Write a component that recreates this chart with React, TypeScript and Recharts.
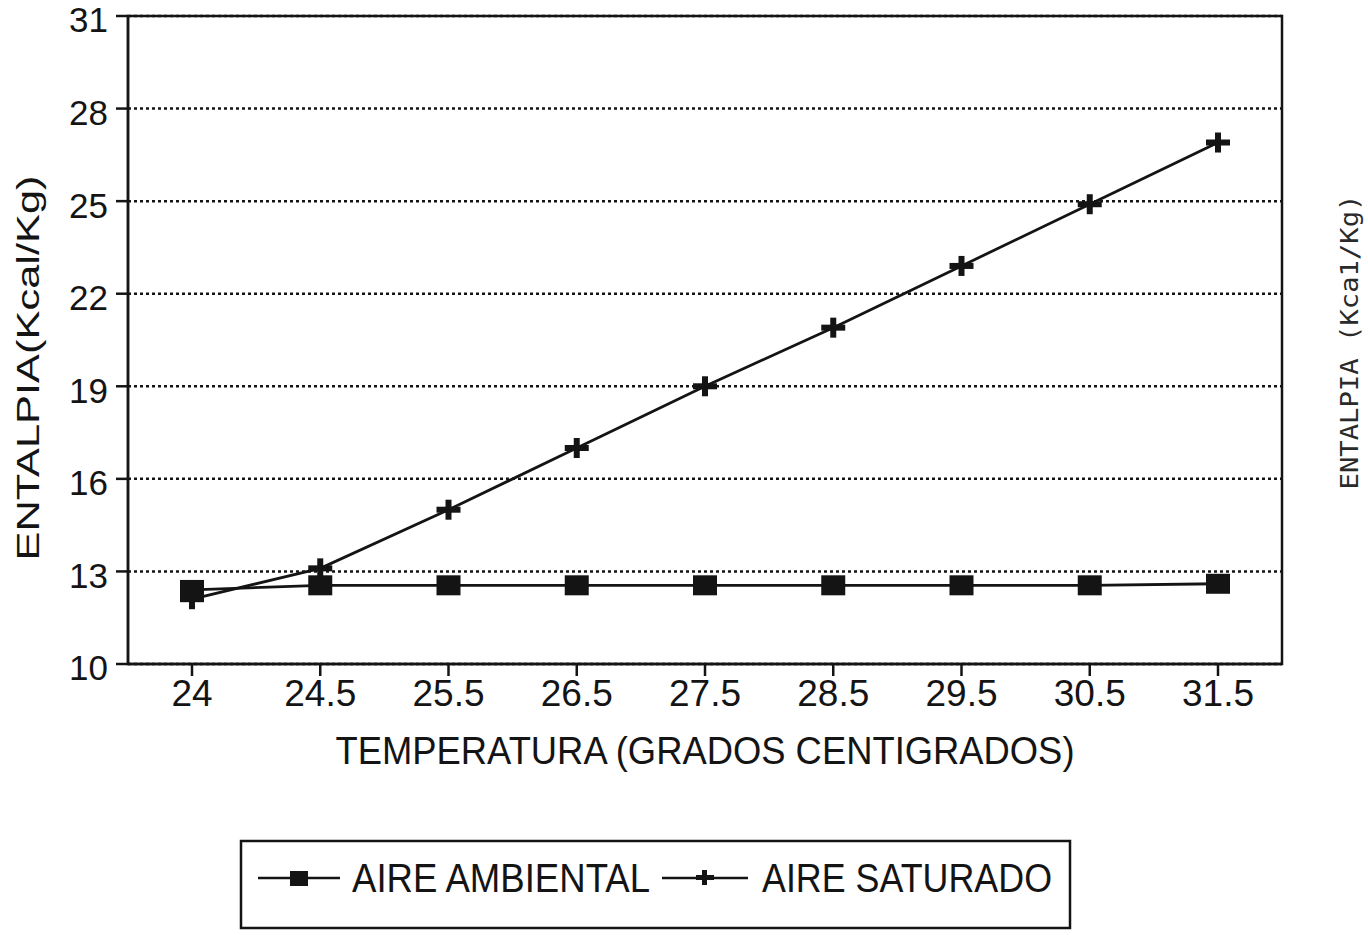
import React from 'react';
import * as Recharts from 'recharts';
import { LineChart, Line, XAxis, YAxis, CartesianGrid, Label } from 'recharts';

const temperaturas = ['24', '24.5', '25.5', '26.5', '27.5', '28.5', '29.5', '30.5', '31.5'];
const aireAmbiental = [12.4, 12.55, 12.55, 12.55, 12.55, 12.55, 12.55, 12.55, 12.6];
const aireSaturado = [12.1, 13.1, 15.0, 17.0, 19.0, 20.9, 22.9, 24.9, 26.9];
const yTicks = [10, 13, 16, 19, 22, 25, 28, 31];

const data = temperaturas.map((t, i) => ({
  t,
  ambiental: aireAmbiental[i],
  saturado: aireSaturado[i],
}));

const INK = '#141414';
const FONT = '"Liberation Sans", Arial, sans-serif';

const usePlotAreaSafe: () => any = (Recharts as any).usePlotArea || (() => null);

const PlotFrame = () => {
  const area = usePlotAreaSafe();
  if (!area) return null;
  return (
    <rect
      x={area.x}
      y={area.y}
      width={area.width}
      height={area.height}
      fill="none"
      stroke={INK}
      strokeWidth={2.5}
    />
  );
};

const SquareDot = (props: any) => {
  const { cx, cy, index } = props;
  if (cx == null || cy == null) return null;
  return <rect key={`sq-${index}`} x={cx - 12} y={cy - 10} width={24} height={20} fill={INK} />;
};

const PlusDot = (props: any) => {
  const { cx, cy, index } = props;
  if (cx == null || cy == null) return null;
  return (
    <g key={`pl-${index}`}>
      <rect x={cx - 12} y={cy - 3} width={24} height={6} fill={INK} />
      <rect x={cx - 3} y={cy - 10} width={6} height={20} fill={INK} />
    </g>
  );
};

export default function App() {
  return (
    <div style={{ position: 'absolute', left: 0, top: 0, width: 1368, height: 935, background: '#fff', overflow: 'hidden' }}>
      <LineChart
        width={1368}
        height={935}
        data={data}
        margin={{ top: 16, right: 86, left: 0, bottom: 161 }}
      >
        <CartesianGrid
          horizontal
          vertical={false}
          stroke={INK}
          strokeWidth={2.5}
          strokeDasharray="3 3"
        />
        <PlotFrame />
        <XAxis
          dataKey="t"
          height={110}
          padding={{ left: 64, right: 64 }}
          tickSize={12}
          tickMargin={4}
          interval={0}
          axisLine={{ stroke: INK, strokeWidth: 2.5 }}
          tickLine={{ stroke: INK, strokeWidth: 2.5 }}
          tick={{ fontSize: 37, fill: INK, fontFamily: FONT }}
        >
          <Label
            content={(p: any) => {
              const vb = p.viewBox || {};
              const cx = vb.x + vb.width / 2;
              return (
                <text
                  x={cx}
                  y={764}
                  textAnchor="middle"
                  fontSize={39}
                  fontFamily={FONT}
                  fill={INK}
                  textLength={739}
                  lengthAdjust="spacingAndGlyphs"
                >
                  TEMPERATURA (GRADOS CENTIGRADOS)
                </text>
              );
            }}
          />
        </XAxis>
        <YAxis
          width={128}
          domain={[10, 31]}
          ticks={yTicks}
          interval={0}
          tickSize={12}
          tickMargin={8}
          axisLine={{ stroke: INK, strokeWidth: 2.5 }}
          tickLine={{ stroke: INK, strokeWidth: 2.5 }}
          tick={{ fontSize: 35, fill: INK, fontFamily: FONT, dy: 4 }}
        >
          <Label
            content={() => (
              <text
                x={28}
                y={368}
                transform="rotate(-90, 28, 368)"
                textAnchor="middle"
                dominantBaseline="central"
                fontSize={31}
                fontFamily={FONT}
                fill={INK}
                textLength={385}
                lengthAdjust="spacingAndGlyphs"
              >
                ENTALPIA(Kcal/Kg)
              </text>
            )}
          />
        </YAxis>
        <Line
          type="linear"
          dataKey="ambiental"
          name="AIRE AMBIENTAL"
          stroke={INK}
          strokeWidth={2.8}
          dot={SquareDot}
          activeDot={false}
          isAnimationActive={false}
        />
        <Line
          type="linear"
          dataKey="saturado"
          name="AIRE SATURADO"
          stroke={INK}
          strokeWidth={2.8}
          dot={PlusDot}
          activeDot={false}
          isAnimationActive={false}
        />
      </LineChart>

      <svg
        width={1368}
        height={935}
        style={{ position: 'absolute', left: 0, top: 0, pointerEvents: 'none' }}
      >
        {/* Legend */}
        <rect x={241} y={841} width={829} height={87} fill="none" stroke={INK} strokeWidth={2.5} />
        <line x1={258} y1={878} x2={340} y2={878} stroke={INK} strokeWidth={2.5} />
        <rect x={290} y={871} width={18} height={15} fill={INK} />
        <text
          x={352}
          y={892}
          fontSize={40}
          fontFamily={FONT}
          fill={INK}
          textLength={298}
          lengthAdjust="spacingAndGlyphs"
        >
          AIRE AMBIENTAL
        </text>
        <line x1={662} y1={878} x2={748} y2={878} stroke={INK} strokeWidth={2.5} />
        <rect x={696} y={875} width={18} height={5} fill={INK} />
        <rect x={702} y={870} width={5} height={15} fill={INK} />
        <text
          x={762}
          y={892}
          fontSize={40}
          fontFamily={FONT}
          fill={INK}
          textLength={290}
          lengthAdjust="spacingAndGlyphs"
        >
          AIRE SATURADO
        </text>

        {/* Right-side vertical label */}
        <text
          x={1350}
          y={342}
          transform="rotate(-90, 1350, 342)"
          textAnchor="middle"
          dominantBaseline="central"
          fontSize={24}
          fontFamily='"DejaVu Sans Mono", "Liberation Mono", monospace'
          fill="#2a2a2a"
          textLength={295}
          lengthAdjust="spacingAndGlyphs"
        >
          ENTALPIA  (Kca1/Kg)
        </text>
      </svg>
    </div>
  );
}
